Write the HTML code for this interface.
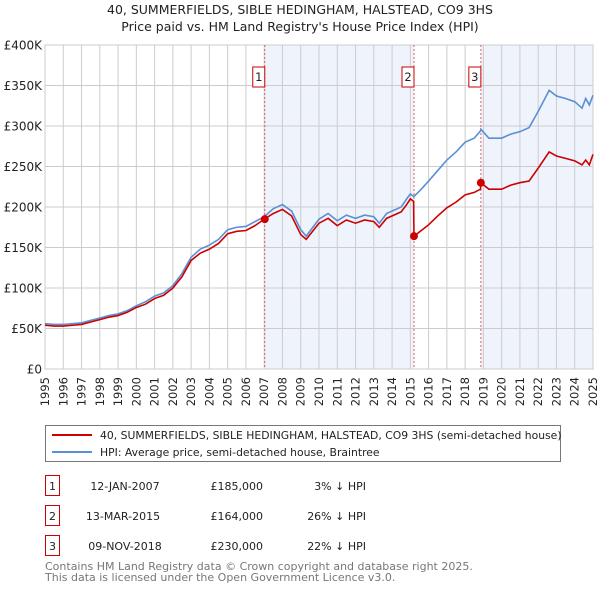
<!DOCTYPE html>
<html><head><meta charset="utf-8"><style>
body{margin:0;background:#fff;font-family:"Liberation Sans","DejaVu Sans",sans-serif;}
svg text{font-family:"DejaVu Sans","Liberation Sans",sans-serif;}
</style></head><body>
<svg id="chart" width="600" height="590" xmlns="http://www.w3.org/2000/svg">
<text x="300" y="14" text-anchor="middle" font-size="12.5" fill="#222">40, SUMMERFIELDS, SIBLE HEDINGHAM, HALSTEAD, CO9 3HS</text>
<text x="300" y="31" text-anchor="middle" font-size="12.5" fill="#222">Price paid vs. HM Land Registry's House Price Index (HPI)</text>
<g id="plot"></g>
<g>
<rect x="45.5" y="425.5" width="515" height="36" fill="#fff" stroke="#777"/>
<line x1="52" y1="435" x2="92" y2="435" stroke="#cc0000" stroke-width="2"/>
<text x="100" y="439" font-size="10.8" fill="#222">40, SUMMERFIELDS, SIBLE HEDINGHAM, HALSTEAD, CO9 3HS (semi-detached house)</text>
<line x1="52" y1="452" x2="92" y2="452" stroke="#5b8fd4" stroke-width="2"/>
<text x="100" y="456" font-size="10.8" fill="#222">HPI: Average price, semi-detached house, Braintree</text>
</g>
<g font-size="11" fill="#222">
<rect x="45.5" y="475.5" width="14" height="20" fill="#fff" stroke="#cc0000"/><text x="52.5" y="490" text-anchor="middle">1</text>
<text x="125" y="490" text-anchor="middle">12-JAN-2007</text><text x="263" y="490" text-anchor="end">£185,000</text><text x="366" y="490" text-anchor="end">3% ↓ HPI</text>
<rect x="45.5" y="505.5" width="14" height="20" fill="#fff" stroke="#cc0000"/><text x="52.5" y="520" text-anchor="middle">2</text>
<text x="123" y="520" text-anchor="middle">13-MAR-2015</text><text x="263" y="520" text-anchor="end">£164,000</text><text x="366" y="520" text-anchor="end">26% ↓ HPI</text>
<rect x="45.5" y="535.5" width="14" height="20" fill="#fff" stroke="#cc0000"/><text x="52.5" y="550" text-anchor="middle">3</text>
<text x="125" y="550" text-anchor="middle">09-NOV-2018</text><text x="263" y="550" text-anchor="end">£230,000</text><text x="366" y="550" text-anchor="end">22% ↓ HPI</text>
</g>
<text x="45" y="570" font-size="11" fill="#777">Contains HM Land Registry data © Crown copyright and database right 2025.</text>
<text x="45" y="581" font-size="11" fill="#777">This data is licensed under the Open Government Licence v3.0.</text>
</svg>
<script>
const dates=[1995.0,1995.5,1996.0,1996.5,1997.0,1997.5,1998.0,1998.5,1999.0,1999.5,2000.0,2000.5,2001.0,2001.5,2002.0,2002.5,2003.0,2003.5,2004.0,2004.5,2005.0,2005.5,2006.0,2006.5,2007.0,2007.5,2008.0,2008.5,2009.0,2009.3,2010.0,2010.5,2011.0,2011.5,2012.0,2012.5,2013.0,2013.3,2013.7,2014.5,2014.8,2015.0,2015.18,2015.2,2015.6,2016.0,2016.5,2017.0,2017.5,2018.0,2018.5,2018.84,2018.86,2019.3,2020.0,2020.5,2021.0,2021.5,2022.0,2022.6,2023.0,2023.5,2024.0,2024.4,2024.6,2024.8,2025.0];
const hpiValues=[56,55,55,56,57,60,63,66,68,72,78,83,90,94,103,118,138,148,153,160,172,175,176,182,188,198,203,195,172,164,185,192,183,190,186,190,188,180,192,200,210,216,213,213,222,232,245,258,268,280,285,294,296,285,285,290,293,298,318,344,337,334,330,322,334,326,338];
const paidValues=[54,53,53,54,55,58,61,64,66,70,76,80,87,91,100,114,134,143,148,155,167,170,171,177,185,192,197,189,166,160,180,186,177,184,180,184,182,175,186,194,203,210,207,164,171,178,189,199,206,215,218,222,230,222,222,227,230,232,248,268,263,260,257,252,258,252,265];
const saleDates=[2007.03,2015.2,2018.86];
const salePrices=[185,164,230];
const saleLabels=["1","2","3"];
const yTicks=[0,50,100,150,200,250,300,350,400];
const yTickLabels=["£0","£50K","£100K","£150K","£200K","£250K","£300K","£350K","£400K"];
const years=[1995,1996,1997,1998,1999,2000,2001,2002,2003,2004,2005,2006,2007,2008,2009,2010,2011,2012,2013,2014,2015,2016,2017,2018,2019,2020,2021,2022,2023,2024,2025];

const X0=45,X1=593,Y0=369,Y1=45;
const xs=d=>X0+(d-1995)/30*(X1-X0);
const ys=v=>Y0-v/400*(Y0-Y1);
const NS="http://www.w3.org/2000/svg";
const plot=document.getElementById('plot');
function mk(tag,attrs){const e=document.createElementNS(NS,tag);for(const k in attrs)e.setAttribute(k,attrs[k]);plot.appendChild(e);return e;}

let s1=mk('rect',{x:xs(saleDates[0]),y:Y1,width:xs(saleDates[1])-xs(saleDates[0]),height:Y0-Y1,fill:'#eef3fc'});


let s2=mk('rect',{x:xs(saleDates[2]),y:Y1,width:X1-xs(saleDates[2]),height:Y0-Y1,fill:'#eef3fc'});



years.forEach(y=>{
  const g=mk('line',{x1:xs(y),x2:xs(y),y1:Y1,y2:Y0,stroke:'#cccccc','stroke-width':1});
  
  
  const t=mk('text',{x:xs(y)+4,y:377,'text-anchor':'end','font-size':11.5,fill:'#222',transform:`rotate(-90 ${xs(y)+4} 377)`});
  t.textContent=y;
  
  
});
yTicks.forEach((v,i)=>{
  const g=mk('line',{x1:X0,x2:X1,y1:ys(v),y2:ys(v),stroke:'#cccccc','stroke-width':1});
  
  
  const t=mk('text',{x:X0-3,y:ys(v)+4.5,'text-anchor':'end','font-size':12,fill:'#222'});
  t.textContent=yTickLabels[i];
  
  
});
const border=mk('rect',{x:X0,y:Y1,width:X1-X0,height:Y0-Y1,fill:'none',stroke:'#cccccc'});



saleDates.forEach((d,i)=>{
  const l=mk('line',{x1:xs(d),x2:xs(d),y1:Y1,y2:Y0,stroke:'#e06060','stroke-dasharray':'2,2','stroke-width':1});
  
  
});

const hp=mk('polyline',{points:dates.map((d,i)=>xs(d)+','+ys(hpiValues[i])).join(' '),fill:'none',stroke:'#5b8fd4','stroke-width':1.6});


const pp=mk('polyline',{points:dates.map((d,i)=>xs(d)+','+ys(paidValues[i])).join(' '),fill:'none',stroke:'#cc0000','stroke-width':1.6});



saleDates.forEach((d,i)=>{
  const c=mk('circle',{cx:xs(d),cy:ys(salePrices[i]),r:4,fill:'#cc0000'});
  
  
  const b=mk('rect',{x:xs(d)-12,y:67,width:12,height:20,fill:'#fff',stroke:'#cc0000'});
  
  
  const t=mk('text',{x:xs(d)-6,y:81,'text-anchor':'middle','font-size':11.5,fill:'#222'});
  t.textContent=saleLabels[i];
  
  
});
</script>
</body></html>
